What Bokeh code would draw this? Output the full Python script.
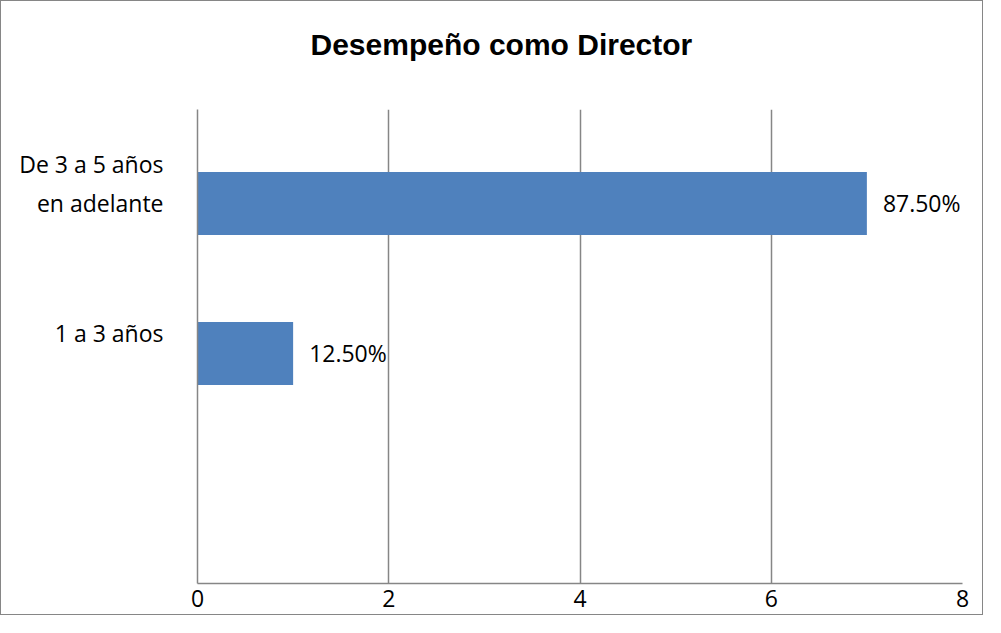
from bokeh.plotting import figure
from bokeh.models import Range1d, FixedTicker, Title, ColumnDataSource
from bokeh.core.properties import value
from bokeh.embed import file_html
from bokeh.resources import INLINE

# data
categories = ["1 a 3 años", "De 3 a 5 años\nen adelante"]
counts = [1, 7]
percent_labels = ["12.50%", "87.50%"]
title_text = "Desempeño como Director"
x_ticks = [0, 2, 4, 6, 8]

positions = list(range(1, len(categories) + 1))
bar_shift = 0.133
src = ColumnDataSource(dict(
    y=[p_ - bar_shift for p_ in positions],
    v=counts,
    lab=percent_labels,
))

BLUE = "#4F81BD"
GRID = "#868686"
FONT = "Open Sans"
FS = "23px"

p = figure(width=983, height=615, output_backend="svg", toolbar_location=None,
           x_range=Range1d(0, 8), y_range=Range1d(-0.667, 2.493),
           min_border_left=196, min_border_right=22, min_border_top=108,
           min_border_bottom=33)
p.styles = {"border": "1px solid #868686"}
p.outline_line_color = None
p.background_fill_color = "white"
p.border_fill_color = "white"

p.hbar(y="y", right="v", left=0, height=0.42, source=src, fill_color=BLUE,
       line_color=None)
p.text(x="v", y="y", text="lab", source=src, x_offset=16, text_baseline="middle",
       text_align="left", text_font=value(FONT), text_font_size=FS,
       text_color="black")

# x axis
p.xaxis.ticker = FixedTicker(ticks=x_ticks)
p.xaxis.axis_line_color = GRID
p.xaxis.axis_line_width = 1.5
p.xaxis.major_tick_line_color = None
p.xaxis.minor_tick_line_color = None
p.xaxis.major_label_text_font = FONT
p.xaxis.major_label_text_font_size = FS
p.xaxis.major_label_text_color = "black"
p.xaxis.major_label_standoff = 0

# y axis
p.yaxis.ticker = FixedTicker(ticks=positions)
p.yaxis.major_label_overrides = {pos: c for pos, c in zip(positions, categories)}
p.yaxis.axis_line_color = GRID
p.yaxis.axis_line_width = 1.5
p.yaxis.major_tick_line_color = None
p.yaxis.minor_tick_line_color = None
p.yaxis.major_label_text_font = FONT
p.yaxis.major_label_text_font_size = FS
p.yaxis.major_label_text_color = "black"
p.yaxis.major_label_standoff = 28

p.xgrid.ticker = FixedTicker(ticks=x_ticks)
p.xgrid.grid_line_color = GRID
p.xgrid.grid_line_width = 1.5
p.ygrid.grid_line_color = None

# spacer between title and plot area, then the title itself
p.add_layout(Title(text=" ", text_font_size="10px", standoff=36), "above")
p.add_layout(Title(text=title_text, align="left", text_font="Liberation Sans",
                   text_font_size="30px", text_font_style="bold", text_color="black",
                   offset=113, standoff=0), "above")

open("out.html", "w").write(file_html(p, INLINE))
